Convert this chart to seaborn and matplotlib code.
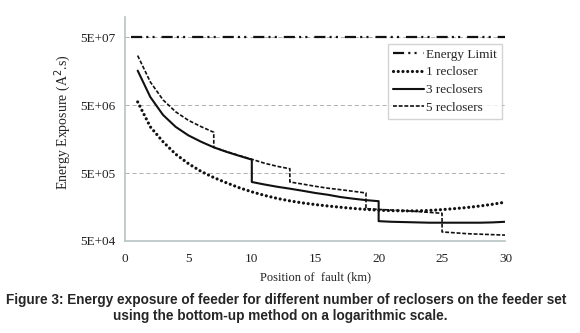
import numpy as np
import pandas as pd
import matplotlib
matplotlib.use('Agg')
import matplotlib.pyplot as plt
import seaborn as sns

sns.set_theme(style='white')
plt.rcParams['font.family'] = ['Liberation Serif', 'DejaVu Serif']
plt.rcParams['lines.scale_dashes'] = False

# ---- data ----
limit_x = [0.5, 30]
limit_y = [5e7, 5e7]

km = list(range(1, 31))
one_recloser = [5.6e6, 2.4e6, 1.45e6, 9.5e5, 6.9e5, 5.3e5, 4.3e5, 3.6e5, 3.05e5, 2.65e5,
                2.35e5, 2.12e5, 1.95e5, 1.82e5, 1.72e5, 1.64e5, 1.57e5, 1.51e5, 1.46e5, 1.42e5,
                1.40e5, 1.39e5, 1.39e5, 1.41e5, 1.45e5, 1.50e5, 1.56e5, 1.64e5, 1.74e5, 1.87e5]

three_x = [1, 2, 3, 4, 5, 6, 7, 8, 9, 10,
           10, 11, 12, 13, 14, 15, 16, 17, 18, 19, 20,
           20, 21, 22, 23, 24, 25, 26, 27, 28, 29, 30]
three_reclosers = [1.62e7, 6.6e6, 3.6e6, 2.4e6, 1.8e6, 1.45e6, 1.2e6, 1.03e6, 9.0e5, 7.9e5,
                   3.7e5, 3.4e5, 3.15e5, 2.95e5, 2.75e5, 2.55e5, 2.4e5, 2.22e5, 2.1e5, 2.0e5, 1.93e5,
                   9.8e4, 9.6e4, 9.5e4, 9.4e4, 9.3e4, 9.3e4, 9.3e4, 9.3e4, 9.3e4, 9.4e4, 9.6e4]

five_x = [1, 2, 3, 4, 5, 6, 7,
          7, 8, 9, 10, 11, 12, 13,
          13, 14, 15, 16, 17, 18, 19,
          19, 20, 21, 22, 23, 24, 25,
          25, 26, 27, 28, 29, 30]
five_reclosers = [2.7e7, 1.1e7, 6.0e6, 4.0e6, 3.0e6, 2.42e6, 2.0e6,
                  1.2e6, 1.04e6, 9.1e5, 8.0e5, 7.0e5, 6.3e5, 5.8e5,
                  3.7e5, 3.45e5, 3.2e5, 3.0e5, 2.85e5, 2.7e5, 2.55e5,
                  1.5e5, 1.46e5, 1.43e5, 1.4e5, 1.36e5, 1.32e5, 1.28e5,
                  6.8e4, 6.6e4, 6.4e4, 6.3e4, 6.2e4, 6.1e4]

yticks = [5e4, 5e5, 5e6, 5e7]
ytick_labels = ['5E+04', '5E+05', '5E+06', '5E+07']
xticks = [0, 5, 10, 15, 20, 25, 30]

fig = plt.figure(figsize=(5.8, 3.33), dpi=100)
ax = fig.add_axes([0.2155, 0.2763, 0.656, 0.6727])

ink = '#111111'
sns.lineplot(x=limit_x, y=limit_y, ax=ax, color=ink, linewidth=1.6,
             linestyle=(0, (8, 3, 1.5, 3, 1.5, 5)), label='Energy Limit')
sns.lineplot(x=km, y=one_recloser, ax=ax, color=ink, linewidth=2.3,
             linestyle=(0, (0.01, 3.4)), dash_capstyle='round', label='1 recloser')
sns.lineplot(x=three_x, y=three_reclosers, ax=ax, color=ink, linewidth=1.5,
             sort=False, estimator=None, label='3 reclosers')
sns.lineplot(x=five_x, y=five_reclosers, ax=ax, color=ink, linewidth=1.2,
             sort=False, estimator=None, linestyle=(0, (2.8, 1.3)), label='5 reclosers')

ax.set_yscale('log')
ax.set_ylim(5e4, 1e8)
ax.set_xlim(0, 30)
ax.set_yticks(yticks)
ax.set_yticklabels(ytick_labels)
ax.minorticks_off()
ax.set_xticks(xticks)
ax.tick_params(axis='both', labelsize=9.5, colors='#222222')
ax.tick_params(axis='y', length=3, width=0.8, color='#b8c4c4', pad=4)
ax.tick_params(axis='x', length=0, pad=9)

for y in yticks:
    ax.axhline(y, color='#b0b0b0', linewidth=0.7, linestyle=(0, (3, 2)), zorder=0)

for s in ['top', 'right']:
    ax.spines[s].set_visible(False)
for s in ['left', 'bottom']:
    ax.spines[s].set_color('#b8c4c4')
    ax.spines[s].set_linewidth(1.2)

ax.set_xlabel('Position of  fault (km)', fontsize=9, color='#222222')
ax.xaxis.set_label_coords(0.5, -0.135)
ax.set_ylabel('Energy Exposure (A$^2$.s)', fontsize=10, color='#222222')
ax.yaxis.set_label_coords(-0.137, 0.53)

leg = ax.legend(loc='upper right', bbox_to_anchor=(0.99, 0.88), fontsize=9.5,
                frameon=True, fancybox=False, handlelength=2.4, handletextpad=0.15,
                labelspacing=0.42, borderpad=0.35, borderaxespad=0)
leg.get_frame().set_edgecolor('#c8c8c8')
leg.get_frame().set_linewidth(1.0)

fig.text(286 / 580, 0.099, 'Figure 3: Energy exposure of feeder for different number of reclosers on the feeder set',
         ha='center', va='center', fontsize=9.8, fontweight='bold', family='Liberation Sans')
fig.text(280 / 580, 0.051, 'using the bottom-up method on a logarithmic scale.',
         ha='center', va='center', fontsize=9.8, fontweight='bold', family='Liberation Sans')

fig.savefig('out.png', dpi=100)
